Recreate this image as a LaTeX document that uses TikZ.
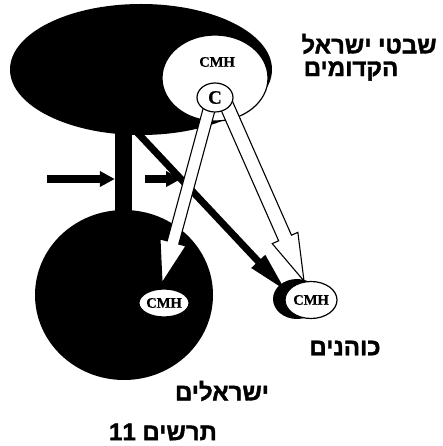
\documentclass[tikz,border=0pt]{standalone}
\usepackage{fontspec}
\setmainfont{Liberation Serif}
\newfontfamily\hebfont[Script=Hebrew, FakeBold=1.6]{Liberation Sans Bold}
\newfontfamily\cmhfam[FakeBold=0.6]{Liberation Serif Bold}
\TeXXeTstate=1
\usetikzlibrary{shapes.geometric,arrows.meta,calc}
\tikzset{
  blk/.style={ellipse, fill=black, draw=none, inner sep=0pt},
  wht/.style={ellipse, fill=white, draw=black, line width=1.2pt, inner sep=0pt},
  cmhfont/.style={font=\cmhfam\fontsize{14.5}{14.5}\selectfont},
  heb/.style={font=\hebfont\fontsize{24}{24}\selectfont, inner sep=0pt},
  hollow/.style={fill=white, draw=black, line width=1.1pt, line join=miter},
  thickarr/.style={line width=8pt, -{Triangle[length=15pt,width=15pt]}},
  diagarr/.style={line width=7pt, -{Triangle[length=42pt,width=17pt]}},
}
\newcommand\hollowarr[6]{%
  \coordinate (#6hb) at ($(#2)!#5!(#1)$);
  \draw[hollow] ($(#1)!#3!90:(#2)$) -- ($(#6hb)!#3!90:(#2)$) -- ($(#6hb)!#4!90:(#2)$) -- (#2)
    -- ($(#6hb)!#4!-90:(#2)$) -- ($(#6hb)!#3!-90:(#2)$) -- ($(#1)!#3!-90:(#2)$) -- cycle;
}
\begin{document}
\begin{tikzpicture}[x=1pt,y=-1pt]
\useasboundingbox (0,0) rectangle (442,446);
\fill[white] (0,0) rectangle (442,446);
% black masses
\node[blk, minimum width=262pt, minimum height=131pt] (tribes) at (141,69.5) {};
\node[rectangle, fill=black, minimum width=17pt, minimum height=95pt, inner sep=0pt] (stem) at (123.5,170) {};
\node[blk, minimum width=178pt, minimum height=170pt] (israel) at (124,295) {};
% black diagonal arrow
\node[blk, minimum width=48pt, minimum height=40pt] (kblob) at (297,299) {};
\coordinate (dstart) at (133,128);
\coordinate (dend) at (287,292);
\draw[diagarr] (dstart) -- (dend);
% white ellipses
\node[wht, minimum width=106pt, minimum height=86pt] (cmhT) at (215,78) {};
\node[cmhfont, inner sep=0pt] (cmhTlabel) at (217,62) {CMH};
\node[wht, cmhfont, minimum width=52pt, minimum height=37pt] (cmhK) at (311,300) {CMH};
\node[wht, cmhfont, minimum width=50pt, minimum height=28pt] (cmhI) at (164,303) {CMH};
% hollow arrows
\coordinate (aL) at (210,106);
\coordinate (tL) at (162,283);
\hollowarr{aL}{tL}{6pt}{13.5pt}{42pt}{l}
\coordinate (aR) at (226,104);
\coordinate (tR) at (304,281);
\hollowarr{aR}{tR}{7pt}{14pt}{47pt}{r}
% C circle
\node[ellipse, fill=white, draw=black, line width=1.2pt, minimum width=36pt, minimum height=29pt, inner sep=0pt, font=\cmhfam\fontsize{19}{19}\selectfont] (C) at (215,97.5) {C};
% horizontal arrows
\coordinate (h1a) at (47,179);
\draw[thickarr] (h1a) -- (h1a -| stem.west);
\coordinate (h2a) at (145,179);
\coordinate (h2b) at (181,179);
\draw[thickarr] (h2a) -- (h2b);
% texts
\node[heb] (t1) at (369,44) {\beginR שבטי ישראל\endR};
\node[heb] (t2) at (351,71) {\beginR הקדומים\endR};
\node[heb] (t3) at (345,348) {\beginR כוהנים\endR};
\node[heb] (t4) at (222,391) {\beginR ישראלים\endR};
\node[heb] (t5) at (163,432) {\beginR תרשים \beginL 11\endL\endR};
\end{tikzpicture}
\end{document}
